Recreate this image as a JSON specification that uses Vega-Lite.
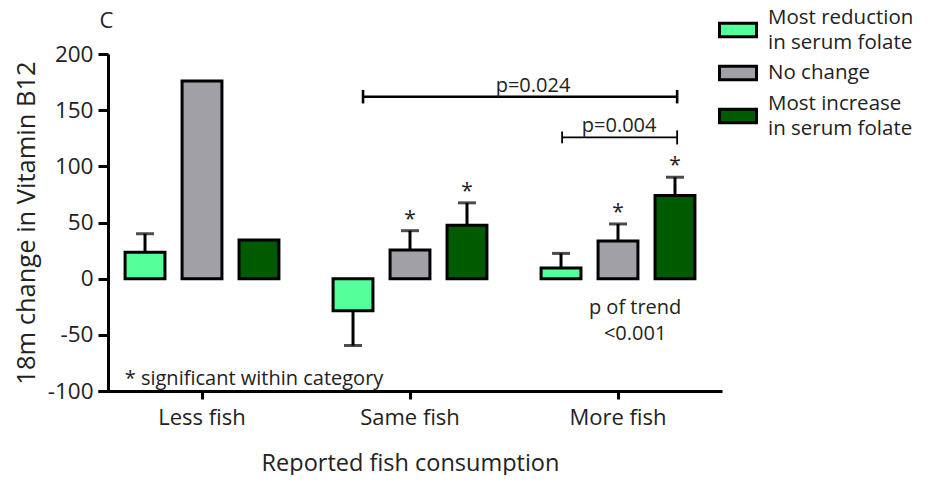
{
  "$schema": "https://vega.github.io/schema/vega-lite/v6.json",
  "width": 612,
  "height": 337,
  "autosize": {"type": "pad"},
  "padding": {"left": 14, "top": 9, "right": 0, "bottom": 0},
  "background": "white",
  "config": {"view": {"stroke": null}, "font": "Open Sans", "axis": {"grid": false}},
  "datasets": {
    "bars": [
      {"grp": "Less fish", "series": "Most reduction in serum folate", "value": 23.5, "hi": 40, "sig": false},
      {"grp": "Less fish", "series": "No change", "value": 176, "hi": null, "sig": false},
      {"grp": "Less fish", "series": "Most increase in serum folate", "value": 34.5, "hi": null, "sig": false},
      {"grp": "Same fish", "series": "Most reduction in serum folate", "value": -28.5, "hi": -59.5, "sig": false},
      {"grp": "Same fish", "series": "No change", "value": 25.5, "hi": 42.7, "sig": true},
      {"grp": "Same fish", "series": "Most increase in serum folate", "value": 47.5, "hi": 67.5, "sig": true},
      {"grp": "More fish", "series": "Most reduction in serum folate", "value": 9.5, "hi": 22.5, "sig": false},
      {"grp": "More fish", "series": "No change", "value": 33.5, "hi": 48.7, "sig": true},
      {"grp": "More fish", "series": "Most increase in serum folate", "value": 74, "hi": 90.3, "sig": true}
    ],
    "segs": [
      {"p": "0.024", "x": 1.774, "x2": 3.284, "y": 162, "y2": 162},
      {"p": "0.024", "x": 1.774, "x2": 1.774, "y": 156, "y2": 168},
      {"p": "0.024", "x": 3.284, "x2": 3.284, "y": 156, "y2": 168},
      {"p": "0.004", "x": 2.731, "x2": 3.284, "y": 125.8, "y2": 125.8},
      {"p": "0.004", "x": 2.731, "x2": 2.731, "y": 120.5, "y2": 131},
      {"p": "0.004", "x": 3.284, "x2": 3.284, "y": 119.5, "y2": 132}
    ],
    "notes": [
      {"x": 2.591, "y": 171.8, "text": "p=0.024", "size": "n"},
      {"x": 3.005, "y": 136, "text": "p=0.004", "size": "n"},
      {"x": 3.082, "y": -26.5, "text": "p of trend", "size": "n"},
      {"x": 3.082, "y": -49.5, "text": "<0.001", "size": "n"},
      {"x": 1.25, "y": -89.3, "text": "* significant within category", "size": "n"},
      {"x": 0.541, "y": 229.4, "text": "C", "size": "c"}
    ]
  },
  "layer": [
    {
      "data": {"name": "bars"},
      "encoding": {
        "x": {
          "field": "grp", "type": "nominal",
          "sort": ["Less fish", "Same fish", "More fish"],
          "scale": {"range": [-10, 614], "paddingInner": 0, "paddingOuter": 0},
          "title": "Reported fish consumption",
          "axis": {"labelAngle": 0, "domainWidth": 3, "domainColor": "black", "tickWidth": 3, "tickColor": "black", "tickSize": 8, "labelFontSize": 22, "labelColor": "#222", "labelPadding": 8, "titleFontSize": 23.5, "titleFontWeight": "normal", "titleColor": "#222", "titlePadding": 23}
        },
        "xOffset": {
          "field": "series", "type": "nominal",
          "sort": ["Most reduction in serum folate", "No change", "Most increase in serum folate"],
          "scale": {"paddingInner": 0.3, "paddingOuter": 0.475}
        }
      },
      "layer": [
        {
          "mark": {"type": "bar", "stroke": "black", "strokeWidth": 3},
          "encoding": {
            "y": {
              "field": "value", "type": "quantitative",
              "scale": {"domain": [-100, 200], "nice": false},
              "title": "18m change in Vitamin B12",
              "axis": {"values": [-100, -50, 0, 50, 100, 150, 200], "labelExpr": "toString(datum.value)", "domainWidth": 3, "domainColor": "black", "tickWidth": 3, "tickColor": "black", "tickSize": 10, "labelFontSize": 22.5, "labelColor": "#222", "labelPadding": 5, "titleFontSize": 25.5, "titleFontWeight": "normal", "titleColor": "#222", "titlePadding": 8}
            },
            "fill": {
              "field": "series", "type": "nominal",
              "sort": ["Most reduction in serum folate", "No change", "Most increase in serum folate"],
              "scale": {"domain": ["Most reduction in serum folate", "No change", "Most increase in serum folate"], "range": ["#55FF99", "#A0A0A6", "#005A00"]},
              "legend": {
                "orient": "none", "legendX": 619, "legendY": -35, "title": null,
                "symbolType": "M-2,-0.74H2V0.74H-2Z", "symbolSize": 342,
                "symbolStrokeColor": "black", "symbolStrokeWidth": 3,
                "labelFont": "Open Sans", "labelFontSize": 20.5, "labelColor": "#222", "labelLimit": 300, "labelOffset": 19, "rowPadding": 7,
                "labelExpr": "datum.label == 'No change' ? datum.label : split(replace(datum.label, ' in serum', '|in serum'), '|')",
                "encode": {"labels": {"update": {"lineHeight": {"value": 25}, "dy": {"signal": "datum.label == 'No change' ? 0 : -12.5"}}}}
              }
            }
          }
        },
        {
          "transform": [{"filter": "isValid(datum.hi)"}],
          "mark": {"type": "rule", "strokeWidth": 3, "color": "black"},
          "encoding": {"y": {"field": "value", "type": "quantitative"}, "y2": {"field": "hi"}}
        },
        {
          "transform": [{"filter": "isValid(datum.hi)"}],
          "mark": {"type": "tick", "orient": "horizontal", "thickness": 3, "size": 18, "color": "black"},
          "encoding": {"y": {"field": "hi", "type": "quantitative"}}
        },
        {
          "transform": [{"filter": "datum.sig"}],
          "mark": {"type": "text", "text": "*", "fontSize": 21, "dy": -5, "baseline": "alphabetic", "color": "#222"},
          "encoding": {"y": {"field": "hi", "type": "quantitative"}}
        }
      ]
    },
    {
      "mark": {"type": "rule", "strokeWidth": 3, "color": "black"},
      "encoding": {"y": {"datum": 0, "type": "quantitative"}}
    },
    {
      "encoding": {
        "x": {"field": "x", "type": "quantitative", "scale": {"domain": [0.548, 3.49], "nice": false, "zero": false}, "axis": null}
      },
      "layer": [
        {
          "data": {"name": "segs"},
          "transform": [{"filter": "datum.p == '0.024'"}],
          "mark": {"type": "rule", "strokeWidth": 2.6, "color": "black"},
          "encoding": {"x2": {"field": "x2"}, "y": {"field": "y", "type": "quantitative"}, "y2": {"field": "y2"}}
        },
        {
          "data": {"name": "segs"},
          "transform": [{"filter": "datum.p == '0.004'"}],
          "mark": {"type": "rule", "strokeWidth": 1.8, "color": "black"},
          "encoding": {"x2": {"field": "x2"}, "y": {"field": "y", "type": "quantitative"}, "y2": {"field": "y2"}}
        },
        {
          "data": {"name": "notes"},
          "transform": [{"filter": "datum.size == 'n'"}],
          "mark": {"type": "text", "fontSize": 20, "align": "center", "baseline": "middle", "color": "#222"},
          "encoding": {"y": {"field": "y", "type": "quantitative"}, "text": {"field": "text"}}
        },
        {
          "data": {"name": "notes"},
          "transform": [{"filter": "datum.size == 'c'"}],
          "mark": {"type": "text", "fontSize": 22, "align": "center", "baseline": "middle", "color": "#222"},
          "encoding": {"y": {"field": "y", "type": "quantitative"}, "text": {"field": "text"}}
        }
      ]
    }
  ],
  "resolve": {"scale": {"x": "independent"}}
}
